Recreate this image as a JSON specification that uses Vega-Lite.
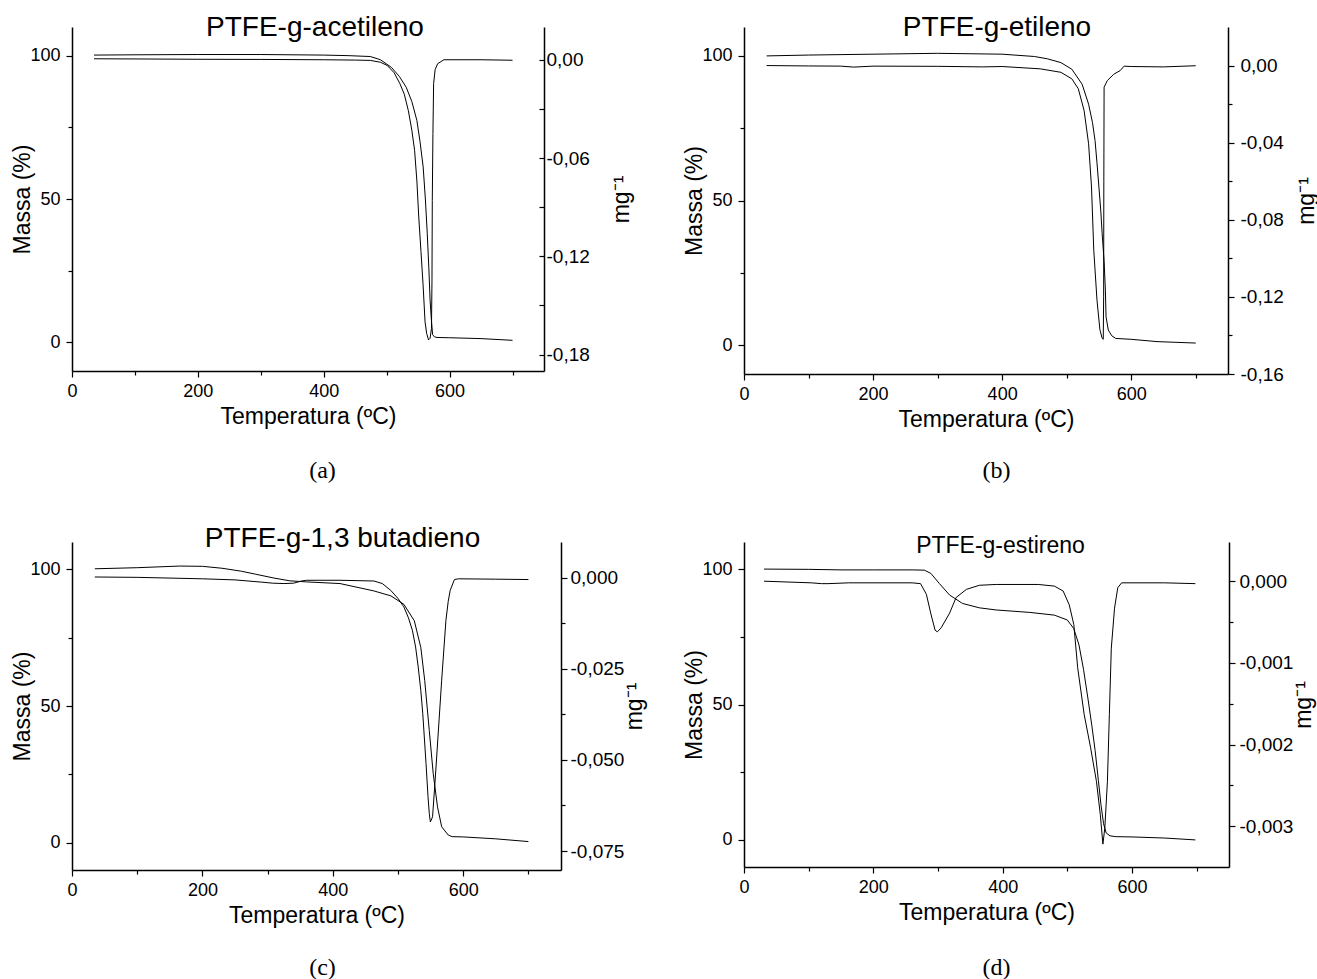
{
  "$schema": "https://vega.github.io/schema/vega-lite/v6.json",
  "background": "white",
  "padding": {"left": 11, "top": 14, "right": 0, "bottom": 0},
  "config": {
    "view": {"stroke": null},
    "font": "Liberation Sans",
    "axis": {"grid": false, "domainColor": "black", "domainWidth": 1.5, "tickColor": "black", "tickWidth": 1.2, "labelColor": "black", "titleColor": "black", "labelFont": "Liberation Sans", "titleFont": "Liberation Sans", "labelFontSize": 18, "titleFontSize": 23, "titleFontWeight": "normal", "labelFlush": false, "labelOverlap": false, "labelPadding": 2},
    "axisX": {"labelPadding": 5, "titlePadding": 5},
    "axisLeft": {"labelPadding": 6, "titlePadding": -5},
    "axisRight": {"labelFontSize": 19},
    "title": {"font": "Liberation Sans", "fontWeight": "normal", "color": "black", "anchor": "middle", "frame": "group"},
    "line": {"color": "black", "strokeWidth": 1}
  },
  "datasets": {
    "a": [
      {"s":"TG","t":35,"v":100.2},{"s":"TG","t":100,"v":100.3},{"s":"TG","t":200,"v":100.4},{"s":"TG","t":300,"v":100.4},{"s":"TG","t":400,"v":100.2},{"s":"TG","t":440,"v":100.0},{"s":"TG","t":474,"v":99.7},{"s":"TG","t":490,"v":98.6},{"s":"TG","t":507.6,"v":95.9},{"s":"TG","t":520,"v":92.8},{"s":"TG","t":531,"v":89},{"s":"TG","t":540,"v":84},{"s":"TG","t":548,"v":77.4},{"s":"TG","t":553,"v":70},{"s":"TG","t":558,"v":61.2},{"s":"TG","t":561.5,"v":50},{"s":"TG","t":564.5,"v":38},{"s":"TG","t":567,"v":26},{"s":"TG","t":569,"v":14.8},{"s":"TG","t":571,"v":8},{"s":"TG","t":573,"v":2.7},{"s":"TG","t":576,"v":1.9},{"s":"TG","t":580,"v":1.7},{"s":"TG","t":600,"v":1.6},{"s":"TG","t":650,"v":1.3},{"s":"TG","t":700,"v":0.7},
      {"s":"DTG","t":35,"v":0.0006},{"s":"DTG","t":100,"v":0.0005},{"s":"DTG","t":200,"v":0.0003},{"s":"DTG","t":300,"v":0.0002},{"s":"DTG","t":400,"v":0.0},{"s":"DTG","t":450,"v":-0.0002},{"s":"DTG","t":474,"v":-0.0004},{"s":"DTG","t":490,"v":-0.0015},{"s":"DTG","t":501,"v":-0.0035},{"s":"DTG","t":512,"v":-0.008},{"s":"DTG","t":521,"v":-0.0146},{"s":"DTG","t":528,"v":-0.021},{"s":"DTG","t":534.4,"v":-0.031},{"s":"DTG","t":540,"v":-0.043},{"s":"DTG","t":544.4,"v":-0.0553},{"s":"DTG","t":548,"v":-0.074},{"s":"DTG","t":551,"v":-0.096},{"s":"DTG","t":554.5,"v":-0.117},{"s":"DTG","t":557.8,"v":-0.137},{"s":"DTG","t":561,"v":-0.160},{"s":"DTG","t":563.5,"v":-0.167},{"s":"DTG","t":566.5,"v":-0.171},{"s":"DTG","t":569,"v":-0.170},{"s":"DTG","t":571.2,"v":-0.164},{"s":"DTG","t":572,"v":-0.135},{"s":"DTG","t":572.5,"v":-0.086},{"s":"DTG","t":573.5,"v":-0.045},{"s":"DTG","t":574.6,"v":-0.0146},{"s":"DTG","t":577,"v":-0.006},{"s":"DTG","t":581,"v":-0.0024},{"s":"DTG","t":591,"v":0.0},{"s":"DTG","t":650,"v":0.0},{"s":"DTG","t":700,"v":-0.0003}
    ],
    "b": [
      {"s":"TG","t":35,"v":100},{"s":"TG","t":100,"v":100.3},{"s":"TG","t":200,"v":100.6},{"s":"TG","t":300,"v":100.9},{"s":"TG","t":400,"v":100.6},{"s":"TG","t":450,"v":99.8},{"s":"TG","t":470,"v":99},{"s":"TG","t":491,"v":97.7},{"s":"TG","t":508,"v":95.4},{"s":"TG","t":524,"v":90.2},{"s":"TG","t":534,"v":83.3},{"s":"TG","t":540,"v":77},{"s":"TG","t":544,"v":70.7},{"s":"TG","t":547,"v":63},{"s":"TG","t":550,"v":54.6},{"s":"TG","t":553,"v":46},{"s":"TG","t":555,"v":38.5},{"s":"TG","t":558,"v":29},{"s":"TG","t":560,"v":19},{"s":"TG","t":561,"v":9.8},{"s":"TG","t":564.5,"v":5.2},{"s":"TG","t":570,"v":3.2},{"s":"TG","t":576,"v":2.3},{"s":"TG","t":600,"v":2.0},{"s":"TG","t":640,"v":1.2},{"s":"TG","t":700,"v":0.7},
      {"s":"DTG","t":35,"v":0.0},{"s":"DTG","t":100,"v":-0.0002},{"s":"DTG","t":150,"v":-0.0003},{"s":"DTG","t":170,"v":-0.0008},{"s":"DTG","t":200,"v":-0.0003},{"s":"DTG","t":300,"v":-0.0004},{"s":"DTG","t":370,"v":-0.0007},{"s":"DTG","t":400,"v":-0.0005},{"s":"DTG","t":459,"v":-0.0017},{"s":"DTG","t":491,"v":-0.0035},{"s":"DTG","t":508,"v":-0.0069},{"s":"DTG","t":518,"v":-0.012},{"s":"DTG","t":527,"v":-0.0233},{"s":"DTG","t":534,"v":-0.0406},{"s":"DTG","t":538.5,"v":-0.063},{"s":"DTG","t":542,"v":-0.0958},{"s":"DTG","t":547,"v":-0.1217},{"s":"DTG","t":551.5,"v":-0.137},{"s":"DTG","t":555,"v":-0.1415},{"s":"DTG","t":556.7,"v":-0.142},{"s":"DTG","t":557.3,"v":-0.12},{"s":"DTG","t":557.6,"v":-0.06},{"s":"DTG","t":558,"v":-0.0112},{"s":"DTG","t":563,"v":-0.0078},{"s":"DTG","t":573,"v":-0.0045},{"s":"DTG","t":583,"v":-0.0026},{"s":"DTG","t":589,"v":-0.0003},{"s":"DTG","t":600,"v":-0.0005},{"s":"DTG","t":650,"v":-0.0007},{"s":"DTG","t":700,"v":-0.0001}
    ],
    "c": [
      {"s":"TG","t":35,"v":100.2},{"s":"TG","t":100,"v":100.6},{"s":"TG","t":165,"v":101.2},{"s":"TG","t":200,"v":101.1},{"s":"TG","t":230,"v":100.4},{"s":"TG","t":260,"v":99.3},{"s":"TG","t":282,"v":98.2},{"s":"TG","t":310,"v":96.8},{"s":"TG","t":334,"v":95.8},{"s":"TG","t":360,"v":95.4},{"s":"TG","t":411,"v":94.8},{"s":"TG","t":463,"v":92.1},{"s":"TG","t":489,"v":90.3},{"s":"TG","t":509,"v":87.2},{"s":"TG","t":525,"v":81.2},{"s":"TG","t":535,"v":71.4},{"s":"TG","t":541,"v":59.3},{"s":"TG","t":548,"v":41},{"s":"TG","t":554,"v":25.3},{"s":"TG","t":560.6,"v":13.1},{"s":"TG","t":567,"v":5.8},{"s":"TG","t":577,"v":2.8},{"s":"TG","t":583,"v":2.2},{"s":"TG","t":600,"v":2.1},{"s":"TG","t":650,"v":1.4},{"s":"TG","t":700,"v":0.4},
      {"s":"DTG","t":35,"v":0.0002},{"s":"DTG","t":100,"v":0.0001},{"s":"DTG","t":200,"v":-0.0003},{"s":"DTG","t":250,"v":-0.0006},{"s":"DTG","t":290,"v":-0.0012},{"s":"DTG","t":308,"v":-0.0015},{"s":"DTG","t":325,"v":-0.0016},{"s":"DTG","t":340,"v":-0.0015},{"s":"DTG","t":352,"v":-0.0009},{"s":"DTG","t":360,"v":-0.0007},{"s":"DTG","t":411,"v":-0.0007},{"s":"DTG","t":463,"v":-0.0009},{"s":"DTG","t":476,"v":-0.0016},{"s":"DTG","t":489,"v":-0.0035},{"s":"DTG","t":500,"v":-0.0057},{"s":"DTG","t":509,"v":-0.008},{"s":"DTG","t":516,"v":-0.011},{"s":"DTG","t":522,"v":-0.0144},{"s":"DTG","t":527,"v":-0.019},{"s":"DTG","t":531,"v":-0.0245},{"s":"DTG","t":535,"v":-0.031},{"s":"DTG","t":538,"v":-0.0373},{"s":"DTG","t":543,"v":-0.051},{"s":"DTG","t":546,"v":-0.06},{"s":"DTG","t":548,"v":-0.0647},{"s":"DTG","t":549.6,"v":-0.067},{"s":"DTG","t":551,"v":-0.0665},{"s":"DTG","t":553,"v":-0.0656},{"s":"DTG","t":557,"v":-0.0555},{"s":"DTG","t":562,"v":-0.0418},{"s":"DTG","t":567,"v":-0.0281},{"s":"DTG","t":573.5,"v":-0.0117},{"s":"DTG","t":577,"v":-0.0065},{"s":"DTG","t":580,"v":-0.0035},{"s":"DTG","t":586.5,"v":-0.0005},{"s":"DTG","t":593,"v":-0.0003},{"s":"DTG","t":650,"v":-0.0004},{"s":"DTG","t":700,"v":-0.0005}
    ],
    "d": [
      {"s":"TG","t":31,"v":100},{"s":"TG","t":100,"v":99.9},{"s":"TG","t":150,"v":99.7},{"s":"TG","t":200,"v":99.7},{"s":"TG","t":260,"v":99.7},{"s":"TG","t":279,"v":99.6},{"s":"TG","t":289,"v":98.4},{"s":"TG","t":302,"v":94.7},{"s":"TG","t":318,"v":90.4},{"s":"TG","t":338,"v":87.3},{"s":"TG","t":364,"v":85.7},{"s":"TG","t":390,"v":84.9},{"s":"TG","t":442,"v":84},{"s":"TG","t":480,"v":83},{"s":"TG","t":500,"v":81.2},{"s":"TG","t":510,"v":78},{"s":"TG","t":518,"v":72},{"s":"TG","t":525,"v":63},{"s":"TG","t":532,"v":52},{"s":"TG","t":538,"v":42},{"s":"TG","t":543,"v":33},{"s":"TG","t":548,"v":22},{"s":"TG","t":552,"v":13},{"s":"TG","t":556,"v":6},{"s":"TG","t":560,"v":2.6},{"s":"TG","t":566,"v":1.5},{"s":"TG","t":575,"v":1.2},{"s":"TG","t":600,"v":1.1},{"s":"TG","t":650,"v":0.7},{"s":"TG","t":698,"v":0},
      {"s":"DTG","t":31,"v":0},{"s":"DTG","t":104,"v":-0.00002},{"s":"DTG","t":120,"v":-0.00003},{"s":"DTG","t":130,"v":-0.00003},{"s":"DTG","t":162,"v":-0.00002},{"s":"DTG","t":260,"v":-0.00002},{"s":"DTG","t":273,"v":-0.00003},{"s":"DTG","t":282,"v":-0.00016},{"s":"DTG","t":289,"v":-0.0004},{"s":"DTG","t":295.5,"v":-0.0006},{"s":"DTG","t":299,"v":-0.00062},{"s":"DTG","t":305,"v":-0.00057},{"s":"DTG","t":318,"v":-0.00039},{"s":"DTG","t":328,"v":-0.0002},{"s":"DTG","t":344,"v":-0.0001},{"s":"DTG","t":364,"v":-0.00005},{"s":"DTG","t":390,"v":-0.00004},{"s":"DTG","t":455,"v":-0.00004},{"s":"DTG","t":480,"v":-0.00006},{"s":"DTG","t":493.5,"v":-0.00012},{"s":"DTG","t":503,"v":-0.00029},{"s":"DTG","t":510,"v":-0.00053},{"s":"DTG","t":516,"v":-0.00106},{"s":"DTG","t":526,"v":-0.00163},{"s":"DTG","t":536,"v":-0.00204},{"s":"DTG","t":545,"v":-0.00245},{"s":"DTG","t":551,"v":-0.00286},{"s":"DTG","t":555,"v":-0.00322},{"s":"DTG","t":558,"v":-0.00302},{"s":"DTG","t":562,"v":-0.00245},{"s":"DTG","t":565,"v":-0.00163},{"s":"DTG","t":568,"v":-0.00082},{"s":"DTG","t":573,"v":-0.00033},{"s":"DTG","t":578,"v":-0.00008},{"s":"DTG","t":584,"v":-0.00002},{"s":"DTG","t":650,"v":-0.00002},{"s":"DTG","t":698,"v":-0.00003}
    ]
  },
  "columns": 2,
  "bounds": "flush",
  "spacing": {"row": 20, "column": 171},
  "concat": [
    {
      "width": 472, "height": 344,
      "title": {"text": "PTFE-g-acetileno", "fontSize": 28, "offset": -15, "dx": 7},
      "data": {"name": "a"},
      "layer": [
        {"transform": [{"filter": "datum.s == 'TG'"}], "mark": {"type": "line"},
         "encoding": {
           "x": {"field": "t", "type": "quantitative", "scale": {"domain": [0, 750], "nice": false}, "axis": {"title": "Temperatura (ºC)", "values": [0,100,200,300,400,500,600,700], "labelExpr": "datum.value % 200 == 0 ? datum.label : ''", "tickSize": {"condition": {"test": "datum.value % 200 == 0", "value": 6}, "value": 4}}},
           "y": {"field": "v", "type": "quantitative", "scale": {"domain": [-10, 110], "nice": false, "zero": false}, "axis": {"title": "Massa (%)", "values": [0,25,50,75,100], "labelExpr": "datum.value % 50 == 0 ? datum.label : ''", "tickSize": {"condition": {"test": "datum.value % 50 == 0", "value": 6}, "value": 4}}}
         }},
        {"transform": [{"filter": "datum.s == 'DTG'"}], "mark": {"type": "line"},
         "encoding": {
           "x": {"field": "t", "type": "quantitative"},
           "y": {"field": "v", "type": "quantitative", "scale": {"domain": [-0.19, 0.02], "nice": false, "zero": false}, "axis": {"orient": "right", "title": "mg⁻¹", "titleAngle": 270, "titlePadding": 44, "tickSize": -5, "labelPadding": 7, "values": [0,-0.03,-0.06,-0.09,-0.12,-0.15,-0.18], "labelExpr": "abs(datum.value/0.06 - round(datum.value/0.06)) < 0.01 ? replace(replace(format(datum.value, '.2f'), '.', ','), '\u2212', '-') : ''"}}
         }}
      ],
      "resolve": {"scale": {"y": "independent"}}
    },
    {
      "width": 484, "height": 347,
      "title": {"text": "PTFE-g-etileno", "fontSize": 28, "offset": -15, "dx": 11},
      "data": {"name": "b"},
      "layer": [
        {"transform": [{"filter": "datum.s == 'TG'"}], "mark": {"type": "line"},
         "encoding": {
           "x": {"field": "t", "type": "quantitative", "scale": {"domain": [0, 750], "nice": false}, "axis": {"title": "Temperatura (ºC)", "values": [0,100,200,300,400,500,600,700], "labelExpr": "datum.value % 200 == 0 ? datum.label : ''", "tickSize": {"condition": {"test": "datum.value % 200 == 0", "value": 6}, "value": 4}}},
           "y": {"field": "v", "type": "quantitative", "scale": {"domain": [-10, 110], "nice": false, "zero": false}, "axis": {"title": "Massa (%)", "values": [0,25,50,75,100], "labelExpr": "datum.value % 50 == 0 ? datum.label : ''", "tickSize": {"condition": {"test": "datum.value % 50 == 0", "value": 6}, "value": 4}}}
         }},
        {"transform": [{"filter": "datum.s == 'DTG'"}], "mark": {"type": "line"},
         "encoding": {
           "x": {"field": "t", "type": "quantitative"},
           "y": {"field": "v", "type": "quantitative", "scale": {"domain": [-0.16, 0.02], "nice": false, "zero": false}, "axis": {"orient": "right", "title": "mg⁻¹", "titleAngle": 270, "titlePadding": 35, "labelPadding": 6, "values": [0,-0.02,-0.04,-0.06,-0.08,-0.10,-0.12,-0.14,-0.16], "labelExpr": "abs(datum.value/0.04 - round(datum.value/0.04)) < 0.01 ? replace(replace(format(datum.value, '.2f'), '.', ','), '\u2212', '-') : ''", "tickSize": {"condition": {"test": "abs(datum.value/0.04 - round(datum.value/0.04)) < 0.01", "value": 6}, "value": 4}}}
         }}
      ],
      "resolve": {"scale": {"y": "independent"}}
    },
    {
      "width": 501, "height": 127.5,
      "data": {"values": [{"c": "(a)"}]},
      "mark": {"type": "text", "font": "Liberation Serif", "fontSize": 24, "dy": 13.3, "color": "black"},
      "encoding": {"text": {"field": "c"}}
    },
    {
      "width": 505, "height": 127.5,
      "data": {"values": [{"c": "(b)"}]},
      "mark": {"type": "text", "font": "Liberation Serif", "fontSize": 24, "dy": 13.3, "color": "black"},
      "encoding": {"text": {"field": "c"}}
    },
    {
      "width": 489, "height": 328,
      "title": {"text": "PTFE-g-1,3 butadieno", "fontSize": 28, "offset": -11, "dx": 26},
      "data": {"name": "c"},
      "layer": [
        {"transform": [{"filter": "datum.s == 'TG'"}], "mark": {"type": "line"},
         "encoding": {
           "x": {"field": "t", "type": "quantitative", "scale": {"domain": [0, 750], "nice": false}, "axis": {"title": "Temperatura (ºC)", "values": [0,100,200,300,400,500,600,700], "labelExpr": "datum.value % 200 == 0 ? datum.label : ''", "tickSize": {"condition": {"test": "datum.value % 200 == 0", "value": 6}, "value": 4}}},
           "y": {"field": "v", "type": "quantitative", "scale": {"domain": [-10, 110], "nice": false, "zero": false}, "axis": {"title": "Massa (%)", "values": [0,25,50,75,100], "labelExpr": "datum.value % 50 == 0 ? datum.label : ''", "tickSize": {"condition": {"test": "datum.value % 50 == 0", "value": 6}, "value": 4}}}
         }},
        {"transform": [{"filter": "datum.s == 'DTG'"}], "mark": {"type": "line"},
         "encoding": {
           "x": {"field": "t", "type": "quantitative"},
           "y": {"field": "v", "type": "quantitative", "scale": {"domain": [-0.0802, 0.0098], "nice": false, "zero": false}, "axis": {"orient": "right", "title": "mg⁻¹", "titleAngle": 270, "titlePadding": 23, "labelPadding": 3, "values": [0,-0.0125,-0.025,-0.0375,-0.05,-0.0625,-0.075], "labelExpr": "abs(datum.value/0.025 - round(datum.value/0.025)) < 0.01 ? replace(replace(format(datum.value, '.3f'), '.', ','), '\u2212', '-') : ''", "tickSize": {"condition": {"test": "abs(datum.value/0.025 - round(datum.value/0.025)) < 0.01", "value": 6}, "value": 4}}}
         }}
      ],
      "resolve": {"scale": {"y": "independent"}}
    },
    {
      "width": 485, "height": 325,
      "title": {"text": "PTFE-g-estireno", "fontSize": 23, "offset": -16, "dx": 14},
      "data": {"name": "d"},
      "layer": [
        {"transform": [{"filter": "datum.s == 'TG'"}], "mark": {"type": "line"},
         "encoding": {
           "x": {"field": "t", "type": "quantitative", "scale": {"domain": [0, 750], "nice": false}, "axis": {"title": "Temperatura (ºC)", "values": [0,100,200,300,400,500,600,700], "labelExpr": "datum.value % 200 == 0 ? datum.label : ''", "tickSize": {"condition": {"test": "datum.value % 200 == 0", "value": 6}, "value": 4}}},
           "y": {"field": "v", "type": "quantitative", "scale": {"domain": [-10, 110], "nice": false, "zero": false}, "axis": {"title": "Massa (%)", "values": [0,25,50,75,100], "labelExpr": "datum.value % 50 == 0 ? datum.label : ''", "tickSize": {"condition": {"test": "datum.value % 50 == 0", "value": 6}, "value": 4}}}
         }},
        {"transform": [{"filter": "datum.s == 'DTG'"}], "mark": {"type": "line"},
         "encoding": {
           "x": {"field": "t", "type": "quantitative"},
           "y": {"field": "v", "type": "quantitative", "scale": {"domain": [-0.0035, 0.00048], "nice": false, "zero": false}, "axis": {"orient": "right", "title": "mg⁻¹", "titleAngle": 270, "titlePadding": 23, "labelPadding": 4, "values": [0,-0.0005,-0.001,-0.0015,-0.002,-0.0025,-0.003], "labelExpr": "abs(datum.value/0.001 - round(datum.value/0.001)) < 0.01 ? replace(replace(format(datum.value, '.3f'), '.', ','), '\u2212', '-') : ''", "tickSize": {"condition": {"test": "abs(datum.value/0.001 - round(datum.value/0.001)) < 0.01", "value": 6}, "value": 4}}}
         }}
      ],
      "resolve": {"scale": {"y": "independent"}}
    },
    {
      "width": 501, "height": 80,
      "data": {"values": [{"c": "(c)"}]},
      "mark": {"type": "text", "font": "Liberation Serif", "fontSize": 24, "dy": 37.8, "color": "black"},
      "encoding": {"text": {"field": "c"}}
    },
    {
      "width": 505, "height": 80,
      "data": {"values": [{"c": "(d)"}]},
      "mark": {"type": "text", "font": "Liberation Serif", "fontSize": 24, "dy": 37.8, "color": "black"},
      "encoding": {"text": {"field": "c"}}
    }
  ]
}
